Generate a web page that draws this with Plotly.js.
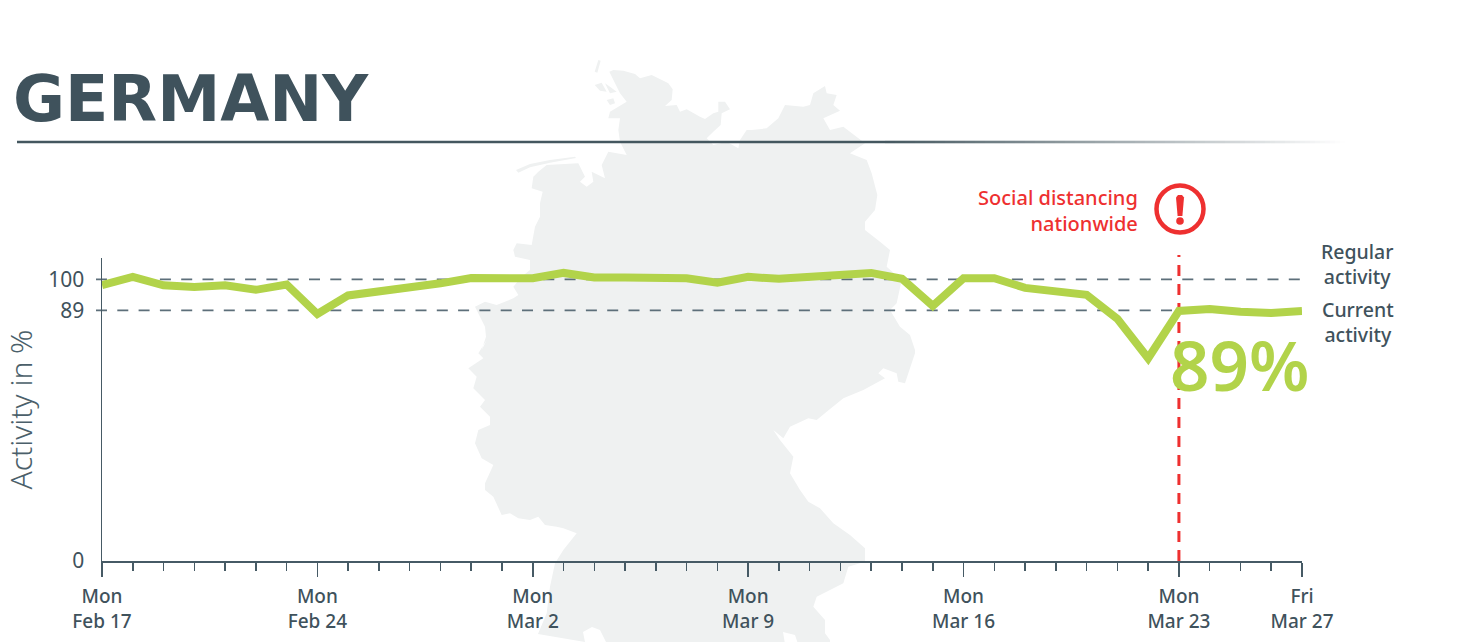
<!DOCTYPE html>
<html>
<head>
<meta charset="utf-8">
<script src="https://cdn.plot.ly/plotly-3.0.1.min.js"></script>
<style>html,body{margin:0;padding:0;background:#fff}#chart{width:1466px;height:642px}</style>
</head>
<body>
<div id="chart"></div>
<script>
const titleText = 'GERMANY';
const dates = ['2020-02-17','2020-02-18','2020-02-19','2020-02-20','2020-02-21','2020-02-22','2020-02-23','2020-02-24','2020-02-25','2020-02-26','2020-02-27','2020-02-28','2020-02-29','2020-03-01','2020-03-02','2020-03-03','2020-03-04','2020-03-05','2020-03-06','2020-03-07','2020-03-08','2020-03-09','2020-03-10','2020-03-11','2020-03-12','2020-03-13','2020-03-14','2020-03-15','2020-03-16','2020-03-17','2020-03-18','2020-03-19','2020-03-20','2020-03-21','2020-03-22','2020-03-23','2020-03-24','2020-03-25','2020-03-26','2020-03-27'];
const activity = [98,100.9,97.9,97.3,97.9,96.3,98.2,87.7,94.3,95.6,96.8,98.6,100.5,100.4,100.4,102.3,100.7,100.7,100.5,100.4,98.8,100.9,100.2,100.7,101.6,102.3,100.2,90.6,100.4,100.4,97,95.7,94.5,86,72,88.8,89.5,88.5,88.1,88.8];
const majorTickDates = ['2020-02-17','2020-02-24','2020-03-02','2020-03-09','2020-03-16','2020-03-23','2020-03-27'];
const majorTickLabels = ['Mon<br>Feb 17','Mon<br>Feb 24','Mon<br>Mar 2','Mon<br>Mar 9','Mon<br>Mar 16','Mon<br>Mar 23','Fri<br>Mar 27'];
const yTickValues = [0,89,100];
const regularLevel = 100, currentLevel = 89;
const eventDate = '2020-03-23';

const DARK = '#3f525c', LIME = '#b2d34a', RED = '#ee3030', MAPC = '#eff1f1';

// page geometry
const L = 102, R = 1302, T = 258, B = 561;
const px = x => (x - L) / (R - L);
const py = y => (B - y) / (B - T);

// decorative map silhouette, traced in page pixels
const fromTop = a => a.map(p => [450 + p[0] / 3, 50 + p[1] / 3]);
const fromLow = a => a.map(p => [450 + p[0] / 3, 340 + p[1] / 3]);
const mapNorth = fromTop([[478,65],[490,60],[520,62],[555,72],[570,85],[605,75],[640,92],[655,100],[668,118],[665,150],[645,168],[680,165],[690,185],[710,178],[750,200],[765,207],[790,190],[805,185],[805,155],[825,155],[840,178],[815,190],[812,225],[790,245],[770,265],[790,285],[830,275],[865,295],[870,270],[890,240],[905,240],[950,235],[985,205],[1005,165],[1060,170],[1080,165],[1090,130],[1125,108],[1130,130],[1160,135],[1150,165],[1170,182],[1120,205],[1140,240],[1180,230],[1245,280],[1200,310],[1250,330],[1265,370],[1282,435],[1275,480],[1245,515],[1245,540],[1290,575],[1320,600],[1310,650],[1355,690],[1340,760],[1320,780],[1350,830],[1380,855],[1395,900]]);
const mapEast = fromLow([[1395,40],[1365,130],[1345,125],[1340,100],[1300,85],[1285,100],[1305,115],[1240,150],[1180,175],[1130,215],[1100,240],[1075,235],[1020,260],[1000,295],[970,270],[990,300],[1030,350],[1020,400],[1050,450],[1075,485],[1110,505],[1150,550],[1200,585],[1245,625],[1245,665],[1195,680],[1180,730],[1100,770],[1090,800],[1125,840],[1125,880],[1140,900]]);
const mapSouth = [[830,650],[800,650],[795,635],[783,632],[786,650],[610,650],[600,630],[592,627],[583,632],[585,642],[538,634]];
const mapWestLow = fromLow([[290,820],[300,740],[315,670],[340,630],[380,580],[340,565],[320,560],[285,555],[265,530],[240,540],[205,535],[180,520],[155,525],[130,470],[105,450],[105,430],[130,375],[95,355],[75,310],[85,270],[120,255],[120,230],[90,200],[105,180],[70,145],[80,110],[55,85],[100,55],[85,40],[110,0]]);
const mapWestHigh = fromTop([[95,900],[108,860],[105,830],[90,800],[75,770],[105,755],[140,765],[190,745],[205,735],[190,710],[215,680],[240,660],[240,630],[195,620],[190,600],[200,580],[245,585],[255,530],[270,500],[270,460],[278,425],[245,415],[250,380],[265,365],[290,345],[385,340],[405,380],[390,395],[410,410],[430,395],[425,365],[465,385],[455,345],[475,305],[530,315],[510,275],[505,240],[510,205],[475,205],[480,185],[530,155],[510,130]]);
const mapIslands = [
  fromTop([[445,30],[452,32],[442,68],[434,65]]),
  fromTop([[434,105],[455,98],[470,125],[450,122]]),
  fromTop([[465,100],[480,110],[500,125],[480,130]]),
  fromTop([[470,150],[490,145],[495,160],[480,165]]),
  fromTop([[198,360],[240,342],[300,330],[375,320],[378,324],[300,338],[240,352],[205,368]])
];
const toPath = ring => 'M' + ring.map(p => px(p[0]).toFixed(5) + ',' + py(p[1]).toFixed(5)).join('L') + 'Z';
const mapPath = toPath([].concat(mapNorth, mapEast, mapSouth, mapWestLow, mapWestHigh)) + mapIslands.map(toPath).join('');

// alert icon: tapered bar of the exclamation mark
const alertBar = [[1176,197.5],[1178,195],[1182,195],[1184,197.5],[1182.4,216],[1177.6,216]];

const shapes = [
  {type:'path', xref:'paper', yref:'paper', path:mapPath, fillcolor:MAPC, line:{width:0}, layer:'below'},
  {type:'line', xref:'paper', yref:'y', x0:px(96), x1:px(1307), y0:regularLevel, y1:regularLevel, line:{color:'#5d6f7a', width:1.7, dash:'11px,10.3px'}, layer:'below'},
  {type:'line', xref:'paper', yref:'y', x0:px(96), x1:px(1307), y0:currentLevel, y1:currentLevel, line:{color:'#5d6f7a', width:1.7, dash:'11px,10.3px'}, layer:'below'},
  {type:'line', xref:'x', yref:'paper', x0:eventDate, x1:eventDate, y0:0, y1:py(255), line:{color:RED, width:3, dash:'11px,8px'}, layer:'below'},
  {type:'circle', xref:'paper', yref:'paper', x0:px(1156.5), x1:px(1203.5), y0:py(232.5), y1:py(185.5), line:{color:RED, width:4.5}, fillcolor:'rgba(0,0,0,0)'},
  {type:'path', xref:'paper', yref:'paper', path:toPath(alertBar), fillcolor:RED, line:{width:0}},
  {type:'circle', xref:'paper', yref:'paper', x0:px(1176.2), x1:px(1183.8), y0:py(224.8), y1:py(217.2), fillcolor:RED, line:{width:0}},
  {type:'line', xref:'paper', yref:'paper', x0:px(17), x1:px(885), y0:py(142), y1:py(142), line:{color:'#44575f', width:2.6}}
];
// title rule fades out to the right
for (let i = 0; i < 92; i++) {
  const x0 = 885 + i * 5;
  const alpha = 1 - (i + 0.5) / 92;
  shapes.push({type:'line', xref:'paper', yref:'paper', x0:px(x0), x1:px(x0 + 5), y0:py(142), y1:py(142), line:{color:'rgba(68,87,95,' + alpha.toFixed(3) + ')', width:2.6}});
}

const textFont = 'Noto Sans, Open Sans, sans-serif';
const ann = (text, x, y, xanchor, size, color, align, weight) => ({
  text, xref:'paper', yref:'paper', x:px(x), y:py(y), xanchor, yanchor:'middle', showarrow:false,
  align:align || xanchor, font:{family:textFont, size, color, weight:weight || 500}
});

const layout = {
  width:1466, height:642, paper_bgcolor:'#fff', plot_bgcolor:'rgba(0,0,0,0)',
  margin:{l:L, r:1466 - R, t:T, b:642 - B, pad:0},
  showlegend:false,
  title:{text:titleText, x:13/1466, xanchor:'left', xref:'container', y:1 - 98.5/642, yanchor:'middle', yref:'container',
         font:{family:'DejaVu Sans', size:63.4, color:DARK, weight:700}},
  xaxis:{type:'date', range:[dates[0], dates[dates.length-1]], tickmode:'array', tickvals:majorTickDates, ticktext:majorTickLabels,
         ticks:'outside', ticklen:14, tickwidth:1.5, tickcolor:'#465a65', showgrid:false, zeroline:false,
         showline:true, linecolor:'#465a65', linewidth:1.5, ticklabelstandoff:4,
         tickfont:{family:textFont, size:19, color:DARK, weight:500},
         minor:{tickmode:'array', tickvals:dates, ticks:'outside', ticklen:8, tickwidth:1.5, tickcolor:'#465a65', showgrid:false}},
  yaxis:{range:[0,107.6], tickmode:'array', tickvals:yTickValues, ticks:'', ticklabelstandoff:12, showgrid:false, zeroline:false,
         showline:true, linecolor:'#465a65', linewidth:1.5,
         tickfont:{family:textFont, size:21, color:DARK},
         title:{text:'Activity in %', standoff:17, font:{family:textFont, size:30, color:'#4b5f6a', weight:300}}},
  shapes,
  annotations:[
    ann('Social distancing<br>nationwide', 1140, 210, 'right', 20, RED, 'right', 500),
    ann('Regular<br>activity', 1396, 264, 'right', 19.5, DARK, 'center', 500),
    ann('Current<br>activity', 1396, 322, 'right', 19.5, DARK, 'center', 500),
    ann('89%', 1239, 364, 'center', 69, LIME, 'center', 600)
  ]
};

const trace = {type:'scatter', mode:'lines', x:dates, y:activity, line:{color:LIME, width:8, shape:'linear'}, hoverinfo:'x+y', cliponaxis:false};
Plotly.newPlot('chart', [trace], layout, {staticPlot:true, displayModeBar:false});
</script>
</body>
</html>
